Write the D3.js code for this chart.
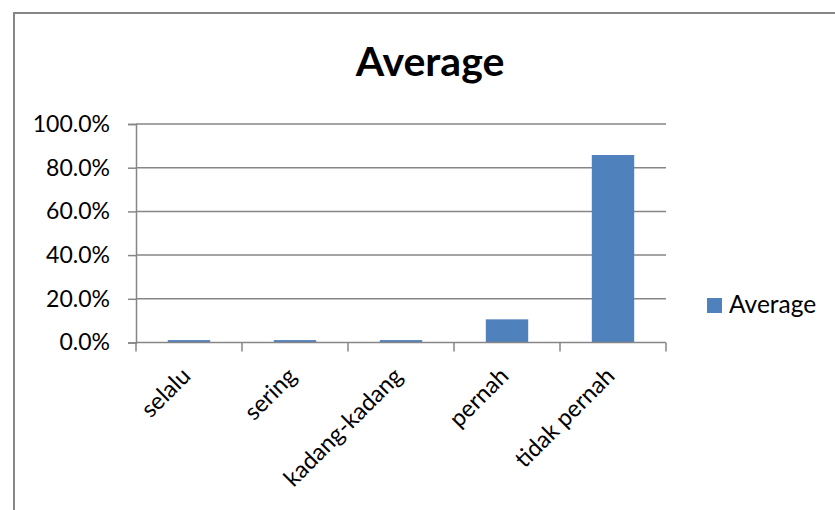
<!DOCTYPE html>
<html><head><meta charset="utf-8">
<script src="https://cdn.jsdelivr.net/npm/d3@7"></script>
<style>body{margin:0;background:#fff}svg{display:block}</style>
</head><body>
<svg id="c" width="835" height="510"></svg>
<script>
const categories = ["selalu","sering","kadang-kadang","pernah","tidak pernah"];
const values = [0.011, 0.011, 0.011, 0.106, 0.858];
const yTicks = [0, 0.2, 0.4, 0.6, 0.8, 1.0];
const seriesName = "Average";
const title = "Average";

const svg = d3.select("#c");
const font = "Lato, 'Open Sans', sans-serif";
const color = "#4f81bd";
const gridColor = "#868686";

// chart border
svg.append("path").attr("d","M14,520 L14,13 L845,13")
  .attr("fill","none").attr("stroke","#868686").attr("stroke-width",2);

const x = d3.scaleBand().domain(categories).range([136, 666]).paddingInner(0.6).paddingOuter(0.3);
const xb = d3.scaleBand().domain(categories).range([136, 666]);
const y = d3.scaleLinear().domain([0,1]).range([342.5, 124]);

// gridlines
svg.append("g").selectAll("line").data(yTicks.slice(1)).join("line")
  .attr("x1",136).attr("x2",666).attr("y1",d=>y(d)).attr("y2",d=>y(d))
  .attr("stroke",gridColor).attr("stroke-width",1.5);

// y axis
const yAxis = d3.axisLeft(y).tickValues(yTicks).tickFormat(d3.format(".1%")).tickSize(8).tickPadding(18);
const gy = svg.append("g").attr("transform","translate(136,0)").call(yAxis);
gy.select(".domain").attr("stroke",gridColor).attr("stroke-width",1.5);
gy.selectAll(".tick line").attr("stroke",gridColor).attr("stroke-width",1.5);
gy.selectAll(".tick text").attr("font-family",font).attr("font-size",23).attr("fill","#000");

// bars
svg.append("g").selectAll("rect").data(values).join("rect")
  .attr("x",(d,i)=>x(categories[i])).attr("width",x.bandwidth())
  .attr("y",d=>y(d)).attr("height",d=>y(0)-y(d)).attr("fill",color);

// x axis
const gx = svg.append("g").attr("transform",`translate(0,${y(0)})`);
gx.append("line").attr("x1",136).attr("x2",666).attr("stroke",gridColor).attr("stroke-width",1.5);
const tickPos = categories.map(c=>xb(c)).concat([xb(categories[categories.length-1])+xb.bandwidth()]);
gx.selectAll("line.t").data(tickPos).join("line").attr("class","t")
  .attr("x1",d=>d).attr("x2",d=>d).attr("y1",0).attr("y2",9)
  .attr("stroke",gridColor).attr("stroke-width",1.5);
gx.selectAll("text").data(categories).join("text")
  .attr("transform",c=>`translate(${xb(c)+xb.bandwidth()/2+3},${35}) rotate(-45)`)
  .attr("text-anchor","end").attr("font-family",font).attr("font-size",23.5).attr("fill","#000")
  .text(c=>c);

// title
svg.append("text").attr("x",430).attr("y",76).attr("text-anchor","middle")
  .attr("font-family",font).attr("font-weight","bold").attr("font-size",41).attr("fill","#000").text(title);

// legend
svg.append("rect").attr("x",707).attr("y",298).attr("width",15).attr("height",15).attr("fill",color);
svg.append("text").attr("x",729).attr("y",313).attr("font-family",font).attr("font-size",24.5).attr("fill","#000").text(seriesName);
</script>
</body></html>
